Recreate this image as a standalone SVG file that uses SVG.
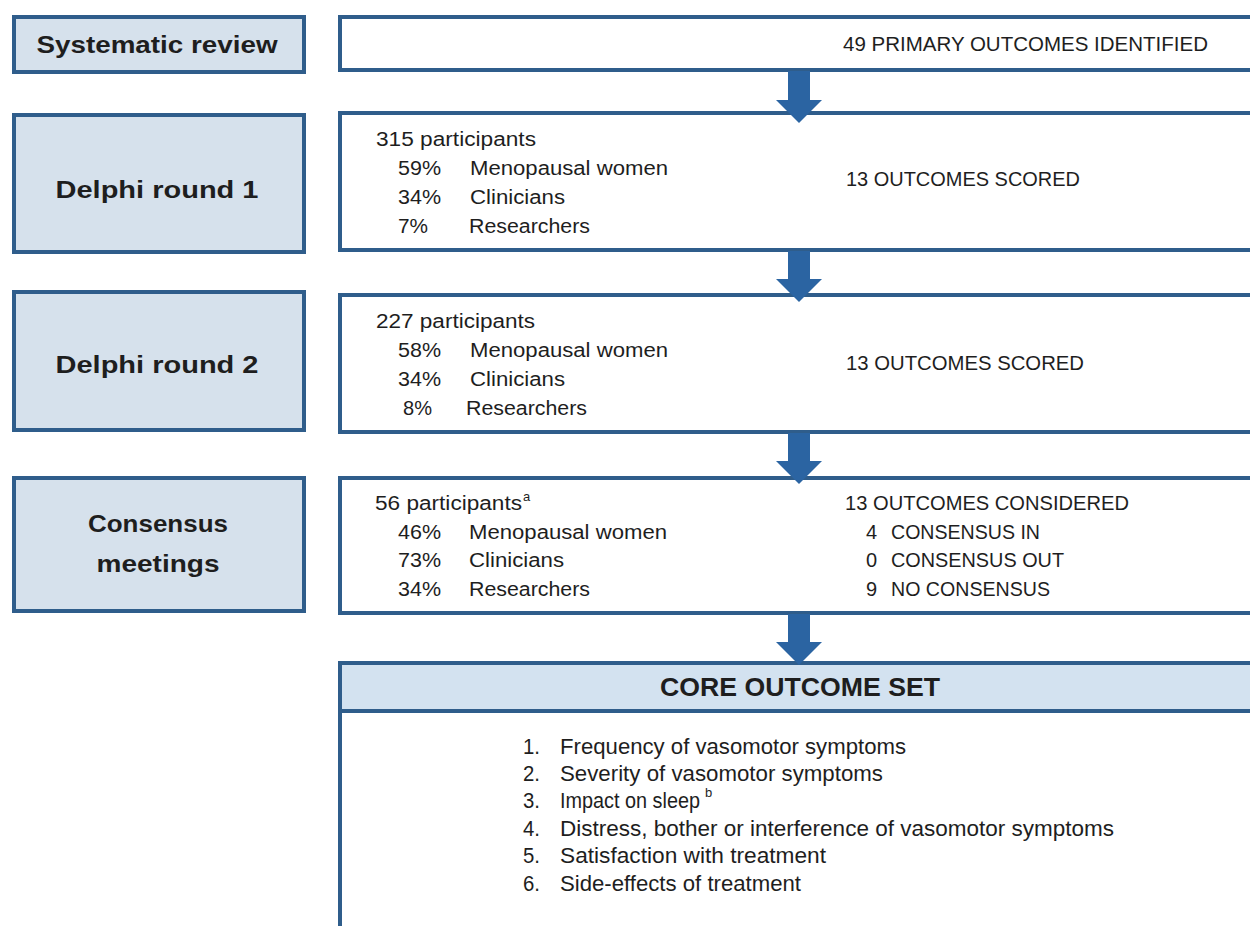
<svg xmlns="http://www.w3.org/2000/svg" width="1250" height="926" viewBox="0 0 1250 926">
<defs>
<style>
.lbox{fill:#d6e1ec;stroke:#2f5d8b;stroke-width:4}
.rbox{fill:#ffffff;stroke:#2f5d8b;stroke-width:4}
.hbox{fill:#d3e2f0;stroke:#2f5d8b;stroke-width:4}
.arrow{fill:#2b64a2}
text{font-family:"Liberation Sans",Arial,sans-serif;fill:#1e1e1e}
.title{font-size:24px;font-weight:bold;text-anchor:middle}
.t{font-size:20px}
.li{font-size:22px}
.sup{font-size:13px}
</style>
</defs>
<rect width="1250" height="926" fill="#ffffff"/>
<g id="systematic-review">
<rect class="lbox" x="14" y="17" width="290" height="55"/>
<text class="title" x="157" y="53" textLength="241" lengthAdjust="spacingAndGlyphs">Systematic review</text>
</g>
<g id="primary-outcomes">
<rect class="rbox" x="340" y="17" width="930" height="53"/>
<text class="t" x="843" y="51" style="font-size:21px" textLength="365" lengthAdjust="spacingAndGlyphs">49 PRIMARY OUTCOMES IDENTIFIED</text>
</g>
<g id="delphi-1">
<rect class="lbox" x="14" y="115" width="290" height="137"/>
<text class="title" x="157" y="198" textLength="203" lengthAdjust="spacingAndGlyphs">Delphi round  1</text>
</g>
<g id="delphi-1-details">
<rect class="rbox" x="340" y="113" width="930" height="137"/>
<text class="t" x="376" y="146" textLength="160" lengthAdjust="spacingAndGlyphs">315 participants</text>
<text class="t" x="398" y="175" textLength="43" lengthAdjust="spacingAndGlyphs">59%</text>
<text class="t" x="470" y="175" textLength="198" lengthAdjust="spacingAndGlyphs">Menopausal women</text>
<text class="t" x="398" y="204" textLength="43" lengthAdjust="spacingAndGlyphs">34%</text>
<text class="t" x="470" y="204" textLength="95" lengthAdjust="spacingAndGlyphs">Clinicians</text>
<text class="t" x="398" y="233" textLength="30" lengthAdjust="spacingAndGlyphs">7%</text>
<text class="t" x="469" y="233" textLength="121" lengthAdjust="spacingAndGlyphs">Researchers</text>
<text class="t" x="846" y="186" textLength="234" lengthAdjust="spacingAndGlyphs">13 OUTCOMES SCORED</text>
</g>
<g id="delphi-2">
<rect class="lbox" x="14" y="292" width="290" height="138"/>
<text class="title" x="157" y="373" textLength="203" lengthAdjust="spacingAndGlyphs">Delphi round  2</text>
</g>
<g id="delphi-2-details">
<rect class="rbox" x="340" y="295" width="930" height="137"/>
<text class="t" x="376" y="328" textLength="159" lengthAdjust="spacingAndGlyphs">227 participants</text>
<text class="t" x="398" y="357" textLength="43" lengthAdjust="spacingAndGlyphs">58%</text>
<text class="t" x="470" y="357" textLength="198" lengthAdjust="spacingAndGlyphs">Menopausal women</text>
<text class="t" x="398" y="386" textLength="43" lengthAdjust="spacingAndGlyphs">34%</text>
<text class="t" x="470" y="386" textLength="95" lengthAdjust="spacingAndGlyphs">Clinicians</text>
<text class="t" x="403" y="415" textLength="29" lengthAdjust="spacingAndGlyphs">8%</text>
<text class="t" x="466" y="415" textLength="121" lengthAdjust="spacingAndGlyphs">Researchers</text>
<text class="t" x="846" y="370" textLength="238" lengthAdjust="spacingAndGlyphs">13 OUTCOMES SCORED</text>
</g>
<g id="consensus">
<rect class="lbox" x="14" y="478" width="290" height="133"/>
<text class="title" x="158" y="532" textLength="140" lengthAdjust="spacingAndGlyphs">Consensus</text>
<text class="title" x="158" y="572" textLength="123" lengthAdjust="spacingAndGlyphs">meetings</text>
</g>
<g id="consensus-details">
<rect class="rbox" x="340" y="478" width="930" height="135"/>
<text class="t" x="375" y="510" textLength="147" lengthAdjust="spacingAndGlyphs">56 participants</text>
<text class="sup" x="523" y="501">a</text>
<text class="t" x="398" y="539" textLength="43" lengthAdjust="spacingAndGlyphs">46%</text>
<text class="t" x="469" y="539" textLength="198" lengthAdjust="spacingAndGlyphs">Menopausal women</text>
<text class="t" x="398" y="567" textLength="43" lengthAdjust="spacingAndGlyphs">73%</text>
<text class="t" x="469" y="567" textLength="95" lengthAdjust="spacingAndGlyphs">Clinicians</text>
<text class="t" x="398" y="596" textLength="43" lengthAdjust="spacingAndGlyphs">34%</text>
<text class="t" x="469" y="596" textLength="121" lengthAdjust="spacingAndGlyphs">Researchers</text>
<text class="t" x="845" y="510" textLength="284" lengthAdjust="spacingAndGlyphs">13 OUTCOMES CONSIDERED</text>
<text class="t" x="866" y="539">4</text>
<text class="t" x="891" y="539" textLength="149" lengthAdjust="spacingAndGlyphs">CONSENSUS IN</text>
<text class="t" x="866" y="567">0</text>
<text class="t" x="891" y="567" textLength="173" lengthAdjust="spacingAndGlyphs">CONSENSUS OUT</text>
<text class="t" x="866" y="596">9</text>
<text class="t" x="891" y="596" textLength="159" lengthAdjust="spacingAndGlyphs">NO CONSENSUS</text>
</g>
<g id="core-outcome-set">
<rect class="rbox" x="340" y="711" width="930" height="240"/>
<rect class="hbox" x="340" y="663" width="930" height="48"/>
<text class="title" x="800" y="696" style="font-size:25px" textLength="280" lengthAdjust="spacingAndGlyphs">CORE OUTCOME SET</text>
<text class="li" x="523" y="754" textLength="17" lengthAdjust="spacingAndGlyphs">1.</text>
<text class="li" x="560" y="754" textLength="346" lengthAdjust="spacingAndGlyphs">Frequency of vasomotor  symptoms</text>
<text class="li" x="523" y="781" textLength="17" lengthAdjust="spacingAndGlyphs">2.</text>
<text class="li" x="560" y="781" textLength="323" lengthAdjust="spacingAndGlyphs">Severity of vasomotor symptoms</text>
<text class="li" x="523" y="808" textLength="17" lengthAdjust="spacingAndGlyphs">3.</text>
<text class="li" x="560" y="808" textLength="140" lengthAdjust="spacingAndGlyphs">Impact on sleep</text>
<text class="sup" x="705" y="797">b</text>
<text class="li" x="523" y="836" textLength="17" lengthAdjust="spacingAndGlyphs">4.</text>
<text class="li" x="560" y="836" textLength="554" lengthAdjust="spacingAndGlyphs">Distress, bother or interference of vasomotor  symptoms</text>
<text class="li" x="523" y="863" textLength="17" lengthAdjust="spacingAndGlyphs">5.</text>
<text class="li" x="560" y="863" textLength="266" lengthAdjust="spacingAndGlyphs">Satisfaction with treatment</text>
<text class="li" x="523" y="891" textLength="17" lengthAdjust="spacingAndGlyphs">6.</text>
<text class="li" x="560" y="891" textLength="241" lengthAdjust="spacingAndGlyphs">Side-effects of treatment</text>
</g>
<g id="connectors">
<path class="arrow" d="M788 71 H810 V100 H822 L799 123 L776 100 H788 Z"/>
<path class="arrow" d="M788 251 H810 V279 H822 L799 302 L776 279 H788 Z"/>
<path class="arrow" d="M788 433 H810 V461 H822 L799 484 L776 461 H788 Z"/>
<path class="arrow" d="M788 614 H810 V642 H822 L799 665 L776 642 H788 Z"/>
</g>
</svg>
